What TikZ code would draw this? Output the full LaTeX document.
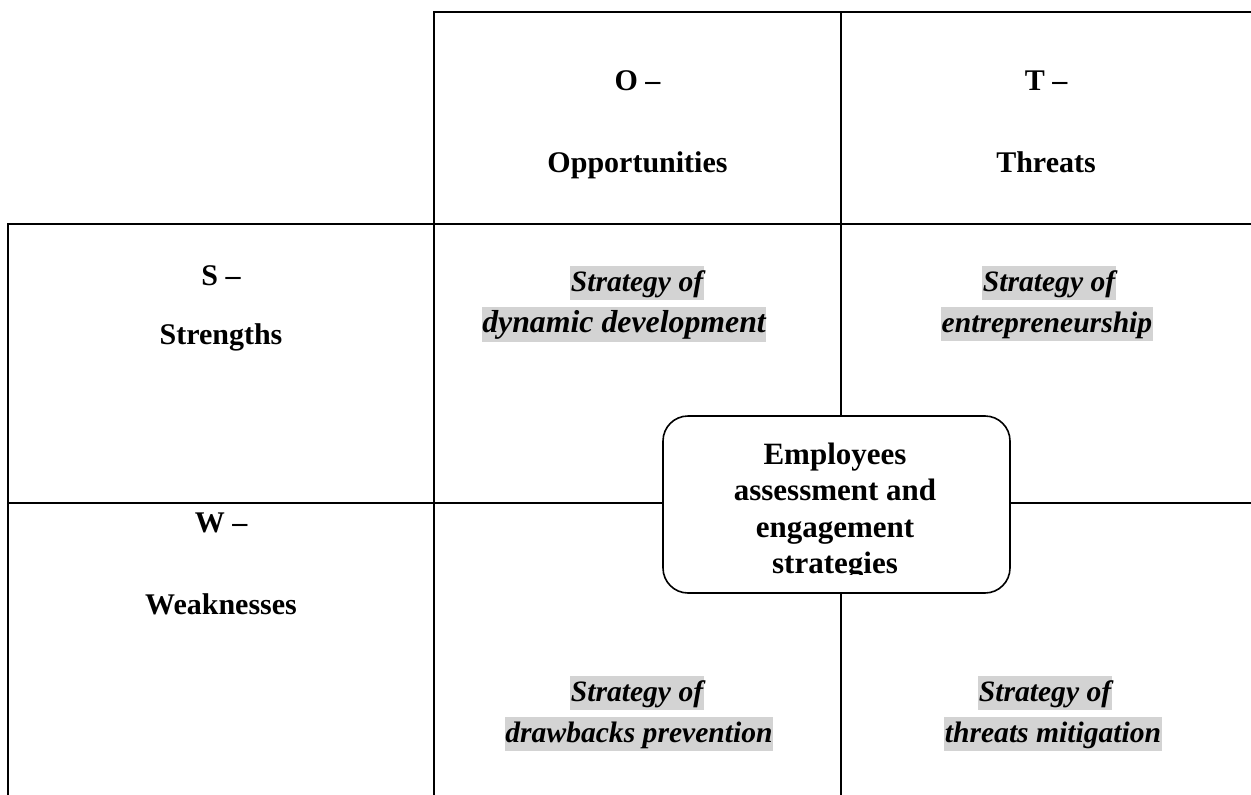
\documentclass[tikz,border=0pt]{standalone}
\usepackage{fontspec}
\setmainfont{Liberation Serif}
\definecolor{hl}{RGB}{211,211,211}
\begin{document}
\begin{tikzpicture}[x=1pt,y=-1pt,
  gridline/.style={line width=2.4pt, line join=miter},
  head/.style={font=\fontsize{30}{36}\selectfont\bfseries, anchor=base, inner sep=0pt},
  strat/.style={font=\fontsize{29.6}{34}\selectfont\bfseries\itshape, anchor=base, fill=hl,
     inner xsep=0.5pt, inner ysep=0pt, text height=24.7pt, text depth=9.3pt},
  boxtxt/.style={font=\fontsize{31}{36.5}\selectfont\bfseries, anchor=base, inner sep=0pt},
  centrebox/.style={draw, line width=1.6pt, rounded corners=25pt, fill=white,
     minimum width=347pt, minimum height=177pt, inner sep=0pt}]
\useasboundingbox (0,0) rectangle (1251,795);
% grid coordinates
\coordinate (tl) at (434,12);
\coordinate (tr) at (1251,12);
\coordinate (mtop) at (841,12);
\coordinate (mbot) at (841,795);
\coordinate (lbot) at (434,795);
\coordinate (rl) at (8,224);
\coordinate (rr) at (1251,224);
\coordinate (rlb) at (8,795);
\coordinate (wl) at (8,503);
\coordinate (wr) at (1251,503);
\draw[gridline] (tr) -- (tl) -- (lbot);
\draw[gridline] (mtop) -- (mbot);
\draw[gridline] (rr) -- (rl) -- (rlb);
\draw[gridline] (wl) -- (wr);
% headers
\node[head] (o1) at (637.5,90) {O --};
\node[head] (o2) at (637.5,172) {Opportunities};
\node[head] (t1) at (1046,90) {T --};
\node[head] (t2) at (1046,172) {Threats};
\node[head] (s1) at (221,285) {S --};
\node[head] (s2) at (221,344) {Strengths};
\node[head] (w1) at (221,532) {W --};
\node[head] (w2) at (221,614) {Weaknesses};
% strategies
\node[strat] (so1) at (637,291) {Strategy of};
\node[strat, font=\fontsize{31.8}{36}\selectfont\bfseries\itshape, text height=25.5pt, text depth=9.6pt] (so2) at (624,332) {dynamic development};
\node[strat] (st1) at (1049,291) {Strategy of};
\node[strat] (st2) at (1047,332) {entrepreneurship};
\node[strat] (wo1) at (637,701) {Strategy of};
\node[strat] (wo2) at (639,742) {drawbacks prevention};
\node[strat] (wt1) at (1045,701) {Strategy of};
\node[strat] (wt2) at (1053,742) {threats mitigation};
% centre box
\node[centrebox] (box) at (836.5,504.5) {};
\begin{scope}
\clip (663,416) rectangle (1010,574);
\node[boxtxt] (b1) at (835,464) {Employees};
\node[boxtxt] (b2) at (835,500.5) {assessment and};
\node[boxtxt] (b3) at (835,537) {engagement};
\node[boxtxt] (b4) at (835,573.5) {strategies};
\end{scope}
\end{tikzpicture}
\end{document}
